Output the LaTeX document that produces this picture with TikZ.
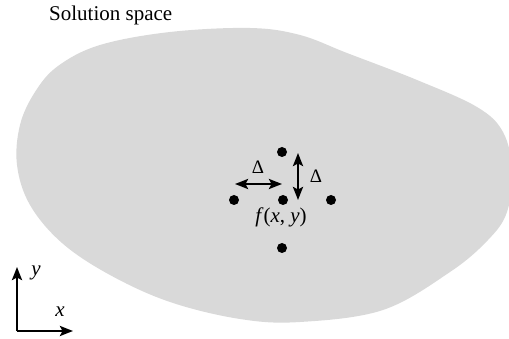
\documentclass[tikz,border=0pt]{standalone}
\usepackage{fontspec}
\setmainfont{Liberation Serif}
\usetikzlibrary{arrows.meta}
\definecolor{blobgrey}{HTML}{D9D9D9}
\tikzset{
  dot/.style={circle,fill=black,inner sep=0pt,minimum size=10pt},
  tip/.style={},
  arr/.style={line width=2.5pt,{Stealth[length=13pt,width=10pt,inset=2.5pt]}-{Stealth[length=13pt,width=10pt,inset=2.5pt]}},
  axarr/.style={line width=2.5pt,-{Stealth[length=13pt,width=10pt,inset=2.5pt]}},
  lab/.style={inner sep=0pt,font=\fontsize{21}{24}\selectfont},
  dlab/.style={inner sep=0pt,font=\fontsize{19}{22}\selectfont}
}
\begin{document}
\begin{tikzpicture}[x=1pt,y=-1pt]
\useasboundingbox (0,0) rectangle (509,339);
\begin{scope}
\clip (0,0) rectangle (509,339);
\fill[blobgrey] plot[smooth cycle,tension=0.6] coordinates {
 (250,28) (300,35) (347,53) (417,80) (477,107) (503,132) (512,170)
 (507,212) (488,240) (450,272) (383,310) (300,322) (240,319) (170,302)
 (110,275) (62,243) (30,205) (17,165) (20,125) (35,92) (58,66) (100,45) (170,32)};
\end{scope}
\node[lab,anchor=west] (title) at (49,15) {Solution space};
\node[dot] (top) at (282,152) {};
\node[dot] (left) at (234,200) {};
\node[dot] (ctr) at (283,200) {};
\node[dot] (right) at (331,200) {};
\node[dot] (bot) at (282,248) {};
\coordinate (hl) at (235,184);
\coordinate (hr) at (282,184);
\coordinate (vt) at (298,153);
\coordinate (vb) at (298,200);
\draw[arr] (hl) -- (hr);
\draw[arr] (vt) -- (vb);
\node[dlab] (d1) at (258,167) {Δ};
\node[dlab] (d2) at (316,176) {Δ};
\node[lab] (f) at (281,217) {\textit{f}(\textit{x}, \textit{y})};
\coordinate (o) at (17,331);
\coordinate (ye) at (17,267);
\coordinate (xe) at (73,331);
\draw[axarr] (o) -- (ye);
\draw[axarr] (o) -- (xe);
\node[lab] (ylab) at (36,273) {\textit{y}};
\node[lab] (xlab) at (60,312) {\textit{x}};
\end{tikzpicture}
\end{document}
